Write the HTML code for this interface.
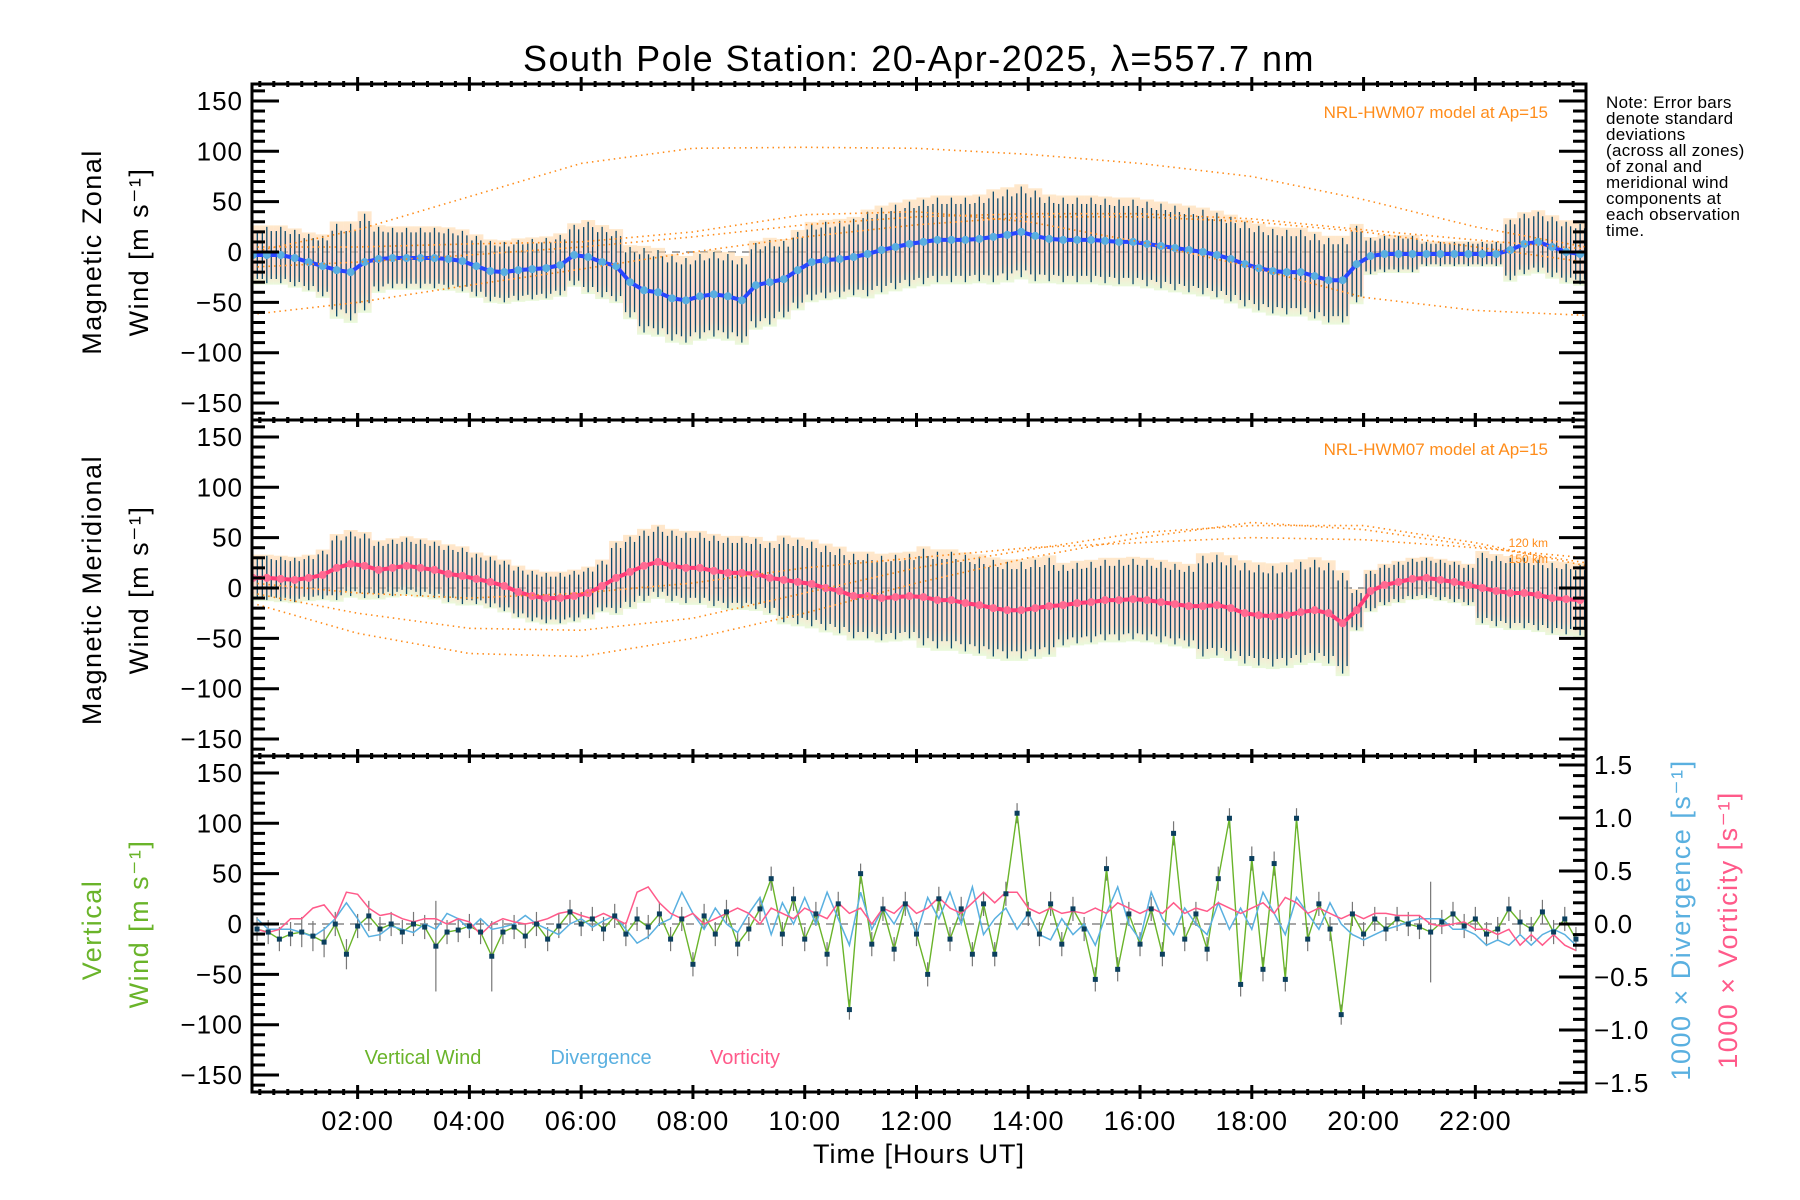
<!DOCTYPE html>
<html><head><meta charset="utf-8"><style>
html,body{margin:0;padding:0;background:#fff;}
svg{display:block;font-family:"Liberation Sans",sans-serif;}
</style></head><body>
<svg id="chart" width="1800" height="1200" viewBox="0 0 1800 1200" xmlns="http://www.w3.org/2000/svg">
<defs>
<linearGradient id="zoneGrad" x1="0" y1="0" x2="0" y2="1">
<stop offset="0" stop-color="#ffd9a8"/><stop offset="0.45" stop-color="#ffbfae"/><stop offset="0.8" stop-color="#ffc8a8"/><stop offset="1" stop-color="#dcf6c4"/>
</linearGradient>
</defs>
<text x="919" y="71" font-size="36" letter-spacing="1.5" text-anchor="middle">South Pole Station: 20-Apr-2025, λ=557.7 nm</text>
<g id="layer"></g>
<text font-size="17" letter-spacing="0.3" fill="#000">
<tspan x="1606" y="108">Note: Error bars</tspan><tspan x="1606" y="124">denote standard</tspan><tspan x="1606" y="140">deviations</tspan><tspan x="1606" y="156">(across all zones)</tspan><tspan x="1606" y="172">of zonal and</tspan><tspan x="1606" y="188">meridional wind</tspan><tspan x="1606" y="204">components at</tspan><tspan x="1606" y="220">each observation</tspan><tspan x="1606" y="236">time.</tspan>
</text>
</svg>
<script>
// ---- data ----
const sampleStart = 0.125, sampleStep = 0.25;
const zonalMean = [-3,-3,-3,-6,-10,-14,-18,-20,-10,-7,-6,-6,-6,-6,-7,-9,-14,-19,-20,-18,-17,-16,-13,-3,-5,-10,-14,-30,-38,-40,-46,-48,-44,-42,-44,-48,-33,-30,-27,-18,-10,-8,-7,-5,-2,2,5,8,10,12,12,12,13,15,17,20,16,13,12,12,12,11,10,10,8,6,4,2,0,-3,-7,-12,-16,-19,-20,-20,-24,-28,-28,-12,-4,-2,-2,-2,-2,-2,-2,-2,-2,-2,2,8,10,5,0,-2];
const zonalSigma = [28,28,28,28,28,30,46,48,48,32,30,30,30,30,30,30,30,30,30,30,30,30,30,30,35,35,35,35,42,42,42,42,42,42,42,42,42,42,38,38,38,38,38,38,42,42,42,42,42,42,42,42,42,45,45,45,45,42,42,42,42,42,42,42,42,42,42,42,42,42,42,42,42,42,42,42,42,42,42,38,18,18,18,18,12,12,12,12,12,12,30,30,30,30,30,30];
const meridMean = [10,10,9,8,10,13,20,24,22,18,20,22,20,18,14,12,9,6,2,-4,-8,-10,-10,-8,-5,2,10,16,22,26,22,20,20,17,15,15,14,10,8,6,4,0,-3,-8,-8,-10,-9,-8,-9,-12,-12,-15,-17,-20,-22,-22,-20,-18,-17,-15,-14,-12,-12,-11,-12,-14,-16,-18,-18,-17,-20,-25,-27,-28,-27,-24,-22,-25,-35,-22,-3,3,6,9,10,8,6,3,0,-3,-5,-5,-7,-10,-11,-12];
const meridSigma = [22,22,22,22,22,24,32,32,32,28,28,28,28,28,28,28,25,25,25,25,25,25,25,25,25,25,35,35,35,35,35,35,35,35,35,35,35,35,42,42,42,42,42,42,42,42,42,42,48,48,48,48,48,48,48,48,48,48,40,40,40,40,40,40,40,40,40,40,50,50,50,50,50,50,50,50,50,50,50,20,20,20,20,20,20,20,20,20,35,35,35,35,35,35,35,35];
const vStart = 0.2, vStep = 0.2;
const vertWind = [-5,-8,-15,-10,-8,-12,-18,0,-30,-2,8,-5,0,-8,0,-3,-22,-8,-6,-2,-8,-32,-8,-3,-12,0,-15,-2,12,0,5,-5,8,-10,5,-3,10,-15,5,-40,8,-10,12,-20,-5,15,45,-10,25,-15,10,-30,20,-85,50,-20,15,-25,20,-10,-50,25,-15,15,-30,20,-30,30,110,10,-10,20,-20,15,-5,-55,55,-45,10,-20,15,-30,90,-15,10,-25,45,105,-60,65,-45,60,-55,105,-15,20,-5,-90,10,-10,5,-5,5,0,-3,-8,2,10,-2,5,-10,-5,15,2,-5,12,-8,5,-15];
const vertErr = [12,12,12,12,15,15,15,12,15,12,15,12,12,12,12,12,45,12,12,12,12,35,12,12,12,12,12,12,12,12,12,12,12,12,12,12,12,12,12,12,12,12,12,12,12,12,12,12,12,12,12,12,12,10,10,12,12,12,12,12,12,12,12,12,12,12,12,12,10,12,12,12,12,12,12,12,12,12,12,12,12,12,12,12,12,12,12,10,12,12,12,12,12,10,12,12,12,10,12,12,12,12,12,12,12,50,12,12,12,12,12,12,12,12,12,12,12,12,12];
const divergence = [0.05,-0.05,-0.05,-0.05,-0.08,-0.12,-0.05,0.05,0.2,0.05,-0.12,-0.1,-0.02,-0.05,-0.08,0.0,-0.05,0.1,0.05,-0.05,0.05,-0.05,-0.03,0.0,0.08,0.0,-0.05,-0.1,0.0,0.05,-0.03,0.03,0.08,-0.05,-0.18,-0.12,0.0,0.05,0.3,0.1,-0.05,0.15,0.0,-0.08,0.1,0.25,-0.1,0.2,0.0,0.25,0.0,0.3,0.05,-0.2,0.3,-0.05,0.15,0.0,0.2,-0.1,0.25,0.05,0.3,0.0,0.35,-0.1,0.05,0.15,-0.05,0.1,-0.1,-0.15,0.05,-0.1,0.0,-0.2,0.1,0.35,0.0,-0.15,0.3,0.05,-0.1,0.15,0.0,-0.1,0.2,-0.05,0.15,-0.05,0.3,0.1,-0.1,0.25,0.1,-0.05,0.2,0.0,-0.1,-0.15,-0.1,-0.05,-0.02,0.02,0.05,0.05,0.05,-0.05,-0.05,-0.1,-0.2,-0.15,-0.2,-0.1,-0.2,-0.1,-0.05,-0.1,-0.2];
const vorticity = [-0.05,-0.08,-0.05,0.05,0.05,0.15,0.18,0.05,0.3,0.28,0.15,0.08,0.1,0.05,0.02,0.05,0.05,0.0,0.05,0.02,-0.1,0.0,0.05,0.02,0.0,0.02,0.05,0.1,0.12,0.08,0.05,0.1,0.05,0.0,0.3,0.35,0.2,0.1,0.05,0.1,0.0,0.05,0.1,0.15,0.1,0.0,0.15,0.1,0.05,0.15,0.1,0.05,0.2,0.1,0.15,0.0,0.15,0.1,0.2,0.1,0.15,0.25,0.15,0.1,0.2,0.3,0.2,0.3,0.3,0.15,0.1,0.15,0.1,0.12,0.1,0.15,0.1,0.2,0.15,0.1,0.15,0.1,0.2,0.1,0.15,0.12,0.2,0.15,0.1,0.15,0.2,0.1,0.25,0.2,0.1,0.15,0.1,0.05,0.1,0.05,0.1,0.1,0.08,0.08,0.08,0.0,-0.02,0.0,0.02,-0.05,-0.05,-0.1,-0.05,-0.2,-0.1,-0.2,-0.1,-0.2,-0.25];
const modelHours = [0,2,4,6,8,10,12,14,16,18,20,22,24];
const zonalModelA = [0,22,55,88,103,104,103,97,88,75,52,25,5];
const zonalModelB = [-62,-50,-33,-17,0,15,27,35,35,30,20,5,-10];
const zonalModelC = [-15,-10,-3,5,15,27,35,38,38,33,22,12,3];
const zonalModelD = [5,5,8,10,20,37,40,30,10,-15,-45,-58,-63];
const meridModelA = [-15,-45,-65,-68,-50,-25,5,30,50,65,58,42,25];
const meridModelB = [-5,-25,-40,-42,-30,-5,20,38,55,62,62,45,22];
const meridModelC = [5,-5,-10,-5,5,20,30,40,45,50,48,40,30];
const xTickLabels = ["02:00","04:00","06:00","08:00","10:00","12:00","14:00","16:00","18:00","20:00","22:00"];
const xTickHours = [2,4,6,8,10,12,14,16,18,20,22];
const yTickLabels = ["150","100","50","0","\u221250","\u2212100","\u2212150"];
const yTickValues = [150,100,50,0,-50,-100,-150];
const rTickLabels = ["1.5","1.0","0.5","0.0","\u22120.5","\u22121.0","\u22121.5"];
const rTickValues = [1.5,1.0,0.5,0.0,-0.5,-1.0,-1.5];

// ---- geometry ----
const X0 = 252, X1 = 1586, H0 = 0.11, H1 = 23.98;
const panels = [{top:84,bot:420,zero:252},{top:420,bot:756,zero:588},{top:756,bot:1092,zero:924}];
const PXU = 1.007, RPXU = 106;
const xs = h => X0 + (h - H0) * (X1 - X0) / (H1 - H0);
const ys = (p, v) => panels[p].zero - v * PXU;
const yr = v => panels[2].zero - v * RPXU;
const NS = "http://www.w3.org/2000/svg";
const layer = document.getElementById('layer');
function mk(tag, attrs, parent) {
  const e = document.createElementNS(NS, tag);
  for (const k in attrs) e.setAttribute(k, attrs[k]);
  (parent || layer).appendChild(e);
  return e;
}
const clip = mk('clipPath', {id:'plotclip'});
mk('rect', {x:X0, y:84, width:X1-X0, height:1008}, clip);

function modelCurve(p, arr, name) {
  const pts = modelHours.map((h,i)=>xs(Math.min(Math.max(h,H0),H1)).toFixed(1)+','+ys(p,arr[i]).toFixed(1)).join(' ');
  const pl = mk('polyline', {points:pts, fill:'none', stroke:'#ff8c1a', 'stroke-width':1.6, 'stroke-dasharray':'1.5 4', 'clip-path':'url(#plotclip)'});
  
  
}

function windPanel(p, mean, sigma, lineColor, dotColor, prefix) {
  const g = mk('g', {'clip-path':'url(#plotclip)'});
  
  
  const n = Math.min(mean.length, sigma.length);
  for (let i=0;i<n;i++){
    const h = sampleStart + i*sampleStep, x = xs(h);
    const r = mk('rect', {x:x-7, y:ys(p,mean[i]+sigma[i]*1.05), width:14, height:sigma[i]*2.1*PXU, fill:'url(#zoneGrad)', opacity:0.6}, g);
    
    
  }
  for (let i=0;i<n;i++){
    const h = sampleStart + i*sampleStep;
    for (const d of [-0.08, 0.0, 0.08]) {
      const x = xs(h + d);
      const b = mk('line', {x1:x, x2:x, y1:ys(p,mean[i]+sigma[i]*(d===0?1:0.85)), y2:ys(p,mean[i]-sigma[i]*(d===0?1:0.85)), stroke:'#0d4a6b', 'stroke-width':1.3}, g);
      
      
    }
  }
  const pts = [];
  for (let i=0;i<n;i++) pts.push(xs(sampleStart+i*sampleStep).toFixed(1)+','+ys(p,mean[i]).toFixed(1));
  const pl = mk('polyline', {points:pts.join(' '), fill:'none', stroke:lineColor, 'stroke-width':4}, g);
  
  
  for (let i=0;i<n;i++){
    const c = mk('circle', {cx:xs(sampleStart+i*sampleStep), cy:ys(p,mean[i]), r:4, fill:dotColor}, g);
    
    
  }
}

for (let p=0;p<3;p++){
  const z = mk('line', {x1:X0, x2:X1, y1:panels[p].zero, y2:panels[p].zero, stroke:'#888', 'stroke-width':1.5, 'stroke-dasharray':'8 6'});
  
  
}

windPanel(0, zonalMean, zonalSigma, '#2846ff', '#5aaee0', 'zonal');
modelCurve(0, zonalModelA, 'zonal-model-curve');
modelCurve(0, zonalModelB, 'zonal-model-curve');
modelCurve(0, zonalModelC, 'zonal-model-curve');
modelCurve(0, zonalModelD, 'zonal-model-curve');
windPanel(1, meridMean, meridSigma, '#ff3c78', '#ff6a92', 'meridional');
modelCurve(1, meridModelA, 'meridional-model-curve');
modelCurve(1, meridModelB, 'meridional-model-curve');
modelCurve(1, meridModelC, 'meridional-model-curve');

{
  const g = mk('g', {'clip-path':'url(#plotclip)'});
  
  
  const n = vertWind.length;
  for (let i=0;i<n;i++){
    const x = xs(vStart+i*vStep);
    const e = mk('line', {x1:x, x2:x, y1:ys(2,vertWind[i]+vertErr[i]), y2:ys(2,vertWind[i]-vertErr[i]), stroke:'#777', 'stroke-width':1.2}, g);
    
    
  }
  const vp = vertWind.map((v,i)=>xs(vStart+i*vStep).toFixed(1)+','+ys(2,v).toFixed(1)).join(' ');
  const vl = mk('polyline', {points:vp, fill:'none', stroke:'#6ab42a', 'stroke-width':1.4}, g);
  
  
  const dp = divergence.map((v,i)=>xs(vStart+i*vStep).toFixed(1)+','+yr(v).toFixed(1)).join(' ');
  const dl = mk('polyline', {points:dp, fill:'none', stroke:'#5ab0e0', 'stroke-width':1.5}, g);
  
  
  const op = vorticity.map((v,i)=>xs(vStart+i*vStep).toFixed(1)+','+yr(v).toFixed(1)).join(' ');
  const ol = mk('polyline', {points:op, fill:'none', stroke:'#ff5a8a', 'stroke-width':1.5}, g);
  
  
  for (let i=0;i<n;i++){
    const r = mk('rect', {x:xs(vStart+i*vStep)-2.5, y:ys(2,vertWind[i])-2.5, width:5, height:5, fill:'#0b3f5e'}, g);
    
    
  }
}

for (let p=0;p<3;p++){
  const P = panels[p];
  const fr = mk('rect', {x:X0, y:P.top, width:X1-X0, height:P.bot-P.top, fill:'none', stroke:'#000', 'stroke-width':3});
  
  
  for (let v=-160; v<=160; v+=10){
    const y = ys(p,v);
    if (y < P.top+2 || y > P.bot-2) continue;
    const major = v % 50 === 0;
    const L = major ? 27 : 13;
    mk('line', {x1:X0, x2:X0+L, y1:y, y2:y, stroke:'#000', 'stroke-width':3});
    if (p<2) mk('line', {x1:X1, x2:X1-L, y1:y, y2:y, stroke:'#000', 'stroke-width':3});
  }
  yTickValues.forEach((v,i)=>{
    const t = mk('text', {x:243, y:ys(p,v)+9, 'font-size':26, 'letter-spacing':1, 'text-anchor':'end'});
    t.textContent = yTickLabels[i];
    
    
  });
  for (let q=0; q<=96; q++){
    const h = q*0.25;
    if (h < H0 || h > H1) continue;
    const x = xs(h);
    const major = q % 8 === 0;
    const L = major ? 7 : 3;
    for (const yy of [P.top, P.bot]) mk('line', {x1:x, x2:x, y1:yy-L, y2:yy+L, stroke:'#000', 'stroke-width':3});
  }
}
for (let v=-15; v<=15; v++){
  const y = yr(v/10);
  if (y < 758 || y > 1090) continue;
  const L = v % 5 === 0 ? 27 : 13;
  mk('line', {x1:X1, x2:X1-L, y1:y, y2:y, stroke:'#000', 'stroke-width':3});
}
rTickValues.forEach((v,i)=>{
  const t = mk('text', {x:1594, y:yr(v)+9, 'font-size':26, 'letter-spacing':1, 'text-anchor':'start'});
  t.textContent = rTickLabels[i];
  
  
});
xTickHours.forEach((h,i)=>{
  const t = mk('text', {x:xs(h), y:1130, 'font-size':27, 'letter-spacing':1, 'text-anchor':'middle'});
  t.textContent = xTickLabels[i];
  
  
});
const xt = mk('text', {x:919, y:1163, 'font-size':27, 'letter-spacing':1, 'text-anchor':'middle'});
xt.textContent = 'Time [Hours UT]';



function rotText(x, y, str, color, name, size){
  const t = mk('text', {x:0, y:0, 'font-size':size||27, 'letter-spacing':1.5, 'text-anchor':'middle', fill:color, transform:`translate(${x},${y}) rotate(-90)`});
  t.textContent = str;
  
  
  return t;
}
rotText(101, 252, 'Magnetic Zonal', '#000', 'zonal-y-title');
rotText(148, 252, 'Wind [m s\u207B\u00B9]', '#000', 'zonal-y-units');
rotText(101, 590, 'Magnetic Meridional', '#000', 'meridional-y-title');
rotText(148, 590, 'Wind [m s\u207B\u00B9]', '#000', 'meridional-y-units');
rotText(101, 930, 'Vertical', '#6ab42a', 'vertical-y-title');
rotText(148, 924, 'Wind [m s\u207B\u00B9]', '#6ab42a', 'vertical-y-units');
rotText(1690, 920, '1000 \u00D7 Divergence [s\u207B\u00B9]', '#5ab0e0', 'divergence-axis-title');
rotText(1737, 930, '1000 \u00D7 Vorticity [s\u207B\u00B9]', '#ff5a8a', 'vorticity-axis-title');

function label(x,y,str,color,size,anchor,name){
  const t = mk('text', {x:x, y:y, 'font-size':size, fill:color, 'text-anchor':anchor});
  t.textContent = str;
  
  
}
label(1548, 118, 'NRL-HWM07 model at Ap=15', '#ff8c1a', 17, 'end', 'zonal-model-label');
label(1548, 455, 'NRL-HWM07 model at Ap=15', '#ff8c1a', 17, 'end', 'meridional-model-label');
label(1548, 547, '120 km', '#ff8c1a', 12, 'end', 'model-120km-label');
label(1548, 563, '150 km', '#ff8c1a', 12, 'end', 'model-150km-label');
label(423, 1064, 'Vertical Wind', '#6ab42a', 20, 'middle', 'legend-vertical-wind');
label(601, 1064, 'Divergence', '#5ab0e0', 20, 'middle', 'legend-divergence');
label(745, 1064, 'Vorticity', '#ff5a8a', 20, 'middle', 'legend-vorticity');
</script>
</body></html>
